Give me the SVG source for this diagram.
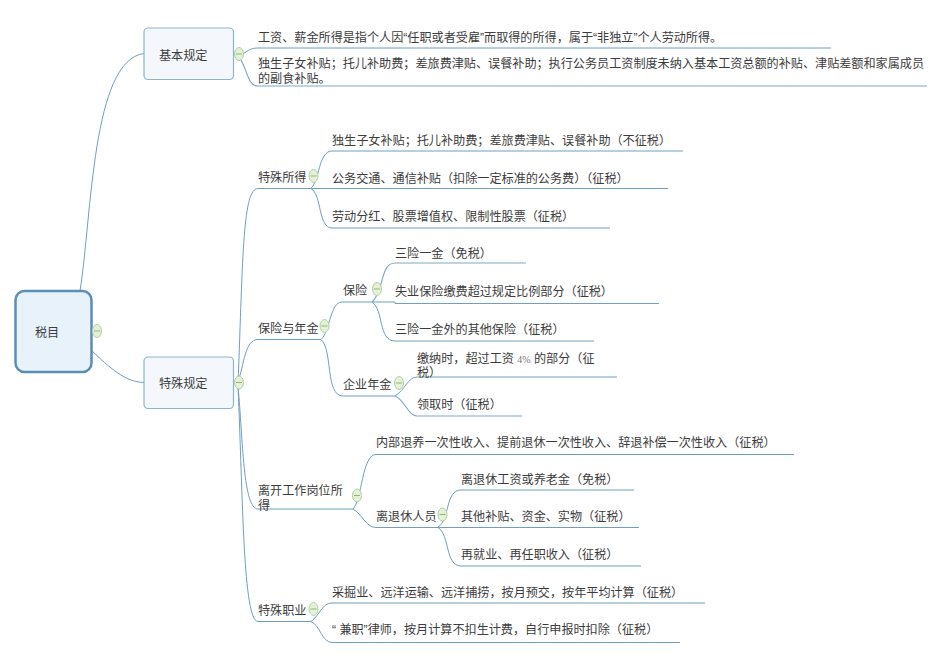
<svg xmlns="http://www.w3.org/2000/svg" width="950" height="658" viewBox="0 0 950 658">
<style>
text{font-family:"Liberation Sans","Noto Sans CJK SC",sans-serif;font-size:12.12px;fill:#3c3c3c}
.c{fill:none;stroke:#6f9fbf;stroke-width:1}
.u{fill:none;stroke:#7fa9c6;stroke-width:1.2}
.root{fill:#e8f2fb;stroke:#5a8fb4;stroke-width:2.5}
.main{fill:#f4f8fd;stroke:#8db3ce;stroke-width:1.2}
.t{fill:#e4f0d8;stroke:#b3cfa0;stroke-width:1}
.m{stroke:#94b583;stroke-width:1}
.p{font-family:"Liberation Serif",serif;fill:#777;font-size:10px}
</style>
<defs>
<g id="tg"><ellipse class="t" cx="0" cy="0" rx="4.5" ry="6.5"/><line class="m" x1="-3" y1="0" x2="3" y2="0"/></g>
</defs>
<g id="connectors">
<path class="c" d="M80 291C92 215 92 60 144 53.500"/>
<path class="c" d="M91 350C110 368 125 382 144 382.500"/>
<path class="c" d="M243 54C248 50 252 48 258 48H831"/>
<path class="u" d="M240 58C248 72 248 86 258 86H927"/>
<path class="c" d="M238 386C243 250 243 189 258 188.500H311"/>
<path class="c" d="M238 382C244 365 245 339 258 339.500H321"/>
<path class="c" d="M238 386C243 440 243 509 258 509H353"/>
<path class="c" d="M238 386C243 500 243 621 258 621.500H311"/>
<path class="c" d="M310 189C320 182 318 151 332 151H683"/>
<path class="c" d="M311 188.500H668"/>
<path class="c" d="M311 188.500C322 195 318 228 332 228H610"/>
<path class="c" d="M321 339.500C330 332 330 302 342 302H372"/>
<path class="c" d="M321 339.500C333 350 325 396 343 396H395"/>
<path class="u" d="M372 302C384 292 380 263 395 263H526"/>
<path class="c" d="M372 302H395V303.500H659"/>
<path class="c" d="M372 302C384 310 378 341 395 341H594"/>
<path class="c" d="M395 396C405 390 408 377 417 377H617"/>
<path class="u" d="M395 396C405 400 408 416 417 416H522"/>
<path class="c" d="M353 509C362 500 362 454.500 376 454.500H794"/>
<path class="c" d="M353 509C362 514 366 527.500 376 527.500H438"/>
<path class="c" d="M438 527C450 520 445 490 461 490H634"/>
<path class="c" d="M438 527.500H639"/>
<path class="c" d="M438 527.500C450 535 445 566 461 566H641"/>
<path class="c" d="M311 621.500C320 615 322 603 332 603H705"/>
<path class="c" d="M311 621.500C320 625 322 642.500 332 642.500H680"/>
</g>
<g id="root"><rect class="root" x="15.500" y="291" width="76" height="81" rx="9"/><text x="35" y="337">税目</text><use href="#tg" x="97" y="331"/></g>
<g id="n-basic"><rect class="main" x="144" y="28" width="89.500" height="51.500" rx="4"/><text x="159" y="60">基本规定</text><use href="#tg" x="239" y="54"/></g>
<g id="n-b1"><text x="258" y="42">工资、薪金所得是指个人因“任职或者受雇”而取得的所得，属于“非独立”个人劳动所得。</text></g>
<g id="n-b2"><text x="258" y="68">独生子女补贴；托儿补助费；差旅费津贴、误餐补助；执行公务员工资制度未纳入基本工资总额的补贴、津贴差额和家属成员</text><text x="258" y="83">的副食补贴。</text></g>
<g id="n-special"><rect class="main" x="144" y="357" width="89.500" height="51.500" rx="4"/><text x="159" y="388">特殊规定</text><use href="#tg" x="239" y="382.500"/></g>
<g id="n-s1"><text x="258" y="182">特殊所得</text><use href="#tg" x="313.500" y="176"/></g>
<g id="n-s11"><text x="332" y="145">独生子女补贴；托儿补助费；差旅费津贴、误餐补助（不征税）</text></g>
<g id="n-s12"><text x="332" y="183">公务交通、通信补贴（扣除一定标准的公务费）（征税）</text></g>
<g id="n-s13"><text x="332" y="221">劳动分红、股票增值权、限制性股票（征税）</text></g>
<g id="n-s2"><text x="258" y="333">保险与年金</text><use href="#tg" x="324.500" y="326"/></g>
<g id="n-s21"><text x="343" y="295">保险</text><use href="#tg" x="377" y="289"/></g>
<g id="n-s211"><text x="395" y="258">三险一金（免税）</text></g>
<g id="n-s212"><text x="395" y="296">失业保险缴费超过规定比例部分（征税）</text></g>
<g id="n-s213"><text x="395" y="334">三险一金外的其他保险（征税）</text></g>
<g id="n-s22"><text x="343" y="389">企业年金</text><use href="#tg" x="399" y="383"/></g>
<g id="n-s221"><text x="417" y="363">缴纳时，超过工资 <tspan class="p">4%</tspan> 的部分（征</text><text x="417" y="377">税）</text></g>
<g id="n-s222"><text x="417" y="409">领取时（征税）</text></g>
<g id="n-s3"><text x="258" y="495">离开工作岗位所</text><text x="258" y="510">得</text><use href="#tg" x="357" y="495.500"/></g>
<g id="n-s31"><text x="376" y="447">内部退养一次性收入、提前退休一次性收入、辞退补偿一次性收入（征税）</text></g>
<g id="n-s32"><text x="376" y="521">离退休人员</text><use href="#tg" x="442.500" y="514.500"/></g>
<g id="n-s321"><text x="461" y="484">离退休工资或养老金（免税）</text></g>
<g id="n-s322"><text x="461" y="521">其他补贴、资金、实物（征税）</text></g>
<g id="n-s323"><text x="461" y="559">再就业、再任职收入（征税）</text></g>
<g id="n-s4"><text x="258" y="615">特殊职业</text><use href="#tg" x="313.500" y="609"/></g>
<g id="n-s41"><text x="332" y="597">采掘业、远洋运输、远洋捕捞，按月预交，按年平均计算（征税）</text></g>
<g id="n-s42"><text x="332" y="634">“ 兼职”律师，按月计算不扣生计费，自行申报时扣除（征税）</text></g>
</svg>
